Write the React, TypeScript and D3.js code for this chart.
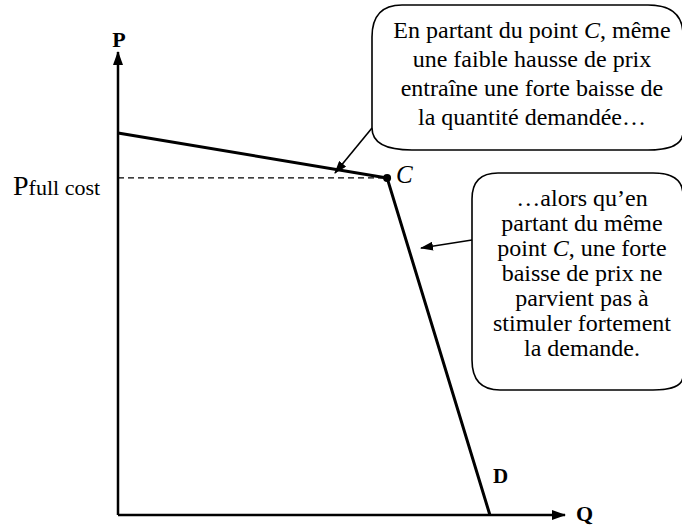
import React from "react";
import * as d3 from "d3";

// Kinked demand curve (Q, P) in data units
const demandQ = [0, 60.2, 83.2];
const demandP = [82.5, 72.8, 0];
const kinkIndex = 1;
const axisLabels = { p: "P", q: "Q", d: "D", c: "C" };
const priceLabelMain = "P";
const priceLabelSub = "full cost";
const callout1Lines = [
  ["En partant du point ", "C", ", même"],
  ["une faible hausse de prix"],
  ["entraîne une forte baisse de"],
  ["la quantité demandée…"],
];
const callout2Lines = [
  ["…alors qu’en"],
  ["partant du même"],
  ["point ", "C", ", une forte"],
  ["baisse de prix ne"],
  ["parvient pas à"],
  ["stimuler fortement"],
  ["la demande."],
];

const W = 682;
const H = 526;
const FONT = "'Liberation Serif', 'Times New Roman', serif";

function roundedBox(x0: number, y0: number, x1: number, y1: number, r: { tl: [number, number]; tr: [number, number]; br: [number, number]; bl: [number, number] }) {
  const p = d3.path();
  p.moveTo(x0 + r.tl[0], y0);
  p.lineTo(x1 - r.tr[0], y0);
  p.quadraticCurveTo(x1, y0, x1, y0 + r.tr[1]);
  p.lineTo(x1, y1 - r.br[1]);
  p.quadraticCurveTo(x1, y1, x1 - r.br[0], y1);
  p.lineTo(x0 + r.bl[0], y1);
  p.quadraticCurveTo(x0, y1, x0, y1 - r.bl[1]);
  p.lineTo(x0, y0 + r.tl[1]);
  p.quadraticCurveTo(x0, y0, x0 + r.tl[0], y0);
  p.closePath();
  return p.toString();
}

function Lines({ lines, cx, y0, dy, size }: { lines: string[][]; cx: number; y0: number; dy: number; size: number }) {
  return (
    <text textAnchor="middle" style={{ fontFamily: FONT, fontSize: size }} fill="#000">
      {lines.map((parts, i) => (
        <tspan key={i} x={cx} y={y0 + i * dy}>
          {parts.map((s, j) =>
            s === "C" ? (
              <tspan key={j} fontStyle="italic">{s}</tspan>
            ) : (
              <tspan key={j}>{s}</tspan>
            )
          )}
        </tspan>
      ))}
    </text>
  );
}

export default function App() {
  const x = d3.scaleLinear().domain([0, 100]).range([118, 565]);
  const y = d3.scaleLinear().domain([0, 100]).range([515, 52]);
  const pts: [number, number][] = demandQ.map((q, i) => [x(q), y(demandP[i])]);
  const line = d3.line<[number, number]>();
  const kx = x(demandQ[kinkIndex]);
  const ky = y(demandP[kinkIndex]);

  return (
    <svg width={W} height={H} style={{ position: "absolute", left: 0, top: 0, background: "#fff", fontFamily: FONT }}>
      <defs>
        <marker id="axArrow" viewBox="0 0 14 10" refX="13" refY="5" markerWidth="14" markerHeight="10" markerUnits="userSpaceOnUse" orient="auto">
          <path d="M0,0 L14,5 L0,10 Z" fill="#000" />
        </marker>
        <marker id="smArrow" viewBox="0 0 13 9" refX="12" refY="4.5" markerWidth="13" markerHeight="9" markerUnits="userSpaceOnUse" orient="auto">
          <path d="M0,0 L13,4.5 L0,9 Z" fill="#000" />
        </marker>
      </defs>

      {/* axes */}
      <line x1={x(0)} y1={y(0)} x2={x(0)} y2={y(100)} stroke="#000" strokeWidth={2.5} markerEnd="url(#axArrow)" />
      <line x1={x(0)} y1={y(0)} x2={x(100)} y2={y(0)} stroke="#000" strokeWidth={2.5} markerEnd="url(#axArrow)" />
      <text x={x(0) + 1} y={47} textAnchor="middle" style={{ fontFamily: FONT, fontWeight: "bold", fontSize: 22 }}>{axisLabels.p}</text>
      <text x={576} y={521} style={{ fontFamily: FONT, fontWeight: "bold", fontSize: 22 }}>{axisLabels.q}</text>

      {/* dashed price line */}
      <line x1={x(0)} y1={ky} x2={kx} y2={ky} stroke="#000" strokeWidth={1.2} strokeDasharray="6,4" />
      <text x={13} y={195} style={{ fontFamily: FONT, fontSize: 28 }}>
        {priceLabelMain}
        <tspan style={{ fontSize: 22 }}>{priceLabelSub}</tspan>
      </text>

      {/* demand curve */}
      <path d={line(pts) || ""} fill="none" stroke="#000" strokeWidth={3} strokeLinejoin="round" />
      <circle cx={kx} cy={ky} r={4} fill="#000" />
      <text x={396} y={183} style={{ fontFamily: FONT, fontStyle: "italic", fontSize: 25 }}>{axisLabels.c}</text>
      <text x={493} y={483} style={{ fontFamily: FONT, fontWeight: "bold", fontSize: 21 }}>{axisLabels.d}</text>

      {/* callout 1 */}
      <path
        d={roundedBox(372, 5, 683, 150, { tl: [30, 32], tr: [35, 30], br: [35, 18], bl: [40, 22] })}
        fill="#fff"
        stroke="#000"
        strokeWidth={1.6}
      />
      <line x1={372} y1={128} x2={335} y2={173} stroke="#000" strokeWidth={1.6} markerEnd="url(#smArrow)" />
      <Lines lines={callout1Lines} cx={532} y0={38} dy={29} size={24} />

      {/* callout 2 */}
      <path
        d={roundedBox(472, 173, 683, 390, { tl: [26, 26], tr: [30, 22], br: [30, 14], bl: [28, 30] })}
        fill="#fff"
        stroke="#000"
        strokeWidth={1.6}
      />
      <line x1={472} y1={240} x2={421} y2={248} stroke="#000" strokeWidth={1.6} markerEnd="url(#smArrow)" />
      <Lines lines={callout2Lines} cx={582} y0={206} dy={25} size={24} />
    </svg>
  );
}
